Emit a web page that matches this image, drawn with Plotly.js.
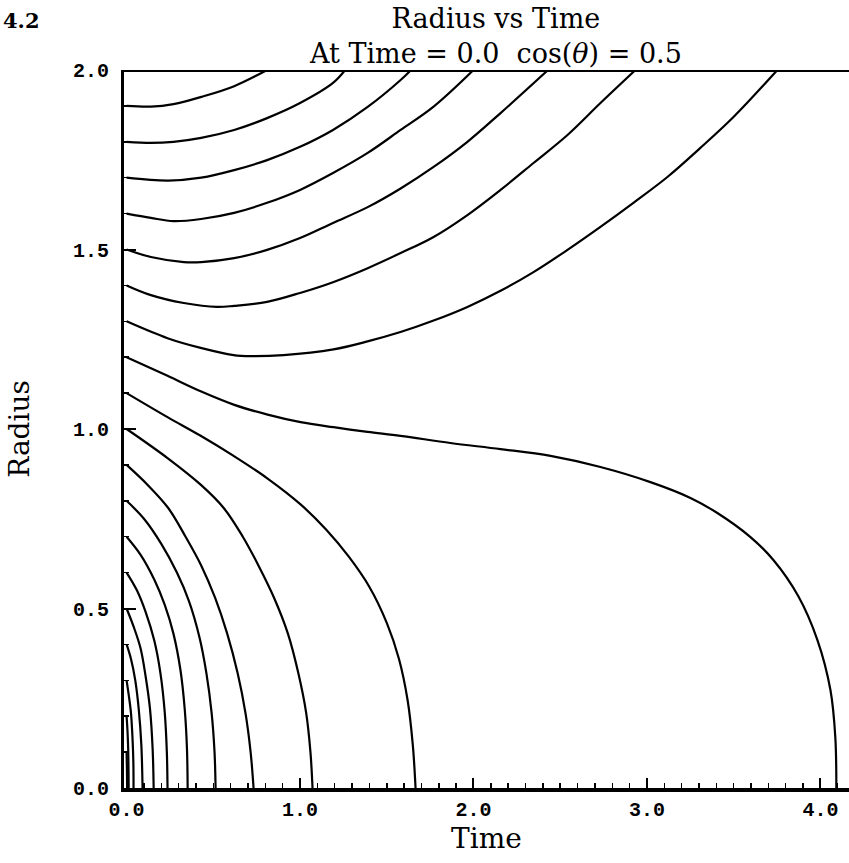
<!DOCTYPE html>
<html>
<head>
<meta charset="utf-8">
<script src="https://cdn.plot.ly/plotly-3.0.1.min.js"></script>
<style>html,body{margin:0;padding:0;background:#fff;}#chart{width:849px;height:863px;}</style>
</head>
<body>
<div id="chart"></div>
<script>
// ---- data (Time, Radius) ----
const t19 = [0, 0.14, 0.27, 0.43, 0.62, 0.81];
const r19 = [1.90, 1.898, 1.905, 1.925, 1.955, 2.0];
const t18 = [0, 0.14, 0.27, 0.43, 0.62, 0.81, 1.00, 1.19, 1.26];
const r18 = [1.80, 1.797, 1.800, 1.811, 1.833, 1.866, 1.908, 1.964, 2.0];
const t17 = [0, 0.24, 0.43, 0.62, 0.81, 1.00, 1.19, 1.39, 1.58, 1.64];
const r17 = [1.70, 1.692, 1.70, 1.721, 1.749, 1.786, 1.833, 1.897, 1.972, 2.0];
const t16 = [0, 0.14, 0.27, 0.43, 0.62, 0.81, 1.00, 1.19, 1.39, 1.58, 1.77, 2.00];
const r16 = [1.60, 1.588, 1.579, 1.585, 1.602, 1.630, 1.666, 1.713, 1.769, 1.833, 1.898, 2.0];
const t15 = [0, 0.14, 0.33, 0.43, 0.62, 0.81, 1.00, 1.19, 1.39, 1.58, 1.77, 1.965, 2.156, 2.43];
const r15 = [1.50, 1.479, 1.465, 1.465, 1.476, 1.499, 1.532, 1.574, 1.618, 1.670, 1.730, 1.80, 1.88, 2.0];
const t14 = [0, 0.14, 0.33, 0.52, 0.62, 0.81, 1.00, 1.19, 1.39, 1.58, 1.77, 1.965, 2.156, 2.346, 2.542, 2.732, 2.934];
const r14 = [1.40, 1.373, 1.351, 1.340, 1.343, 1.354, 1.379, 1.409, 1.448, 1.490, 1.535, 1.596, 1.666, 1.741, 1.819, 1.908, 2.0];
const t13 = [0, 0.236, 0.427, 0.617, 0.715, 0.905, 1.193, 1.389, 1.579, 1.77, 1.965, 2.156, 2.346, 2.542, 2.732, 2.922, 3.118, 3.308, 3.499, 3.752];
const r13 = [1.30, 1.253, 1.226, 1.206, 1.203, 1.206, 1.222, 1.244, 1.270, 1.302, 1.340, 1.385, 1.437, 1.499, 1.563, 1.630, 1.702, 1.783, 1.869, 2.0];
const t12 = [0, 0.236, 0.427, 0.617, 0.813, 1.003, 1.193, 1.389, 1.579, 1.867, 2.156, 2.444, 2.732, 3.020, 3.251, 3.406, 3.597, 3.729, 3.873, 3.983, 4.058, 4.086, 4.092];
const r12 = [1.20, 1.148, 1.105, 1.068, 1.040, 1.019, 1.005, 0.992, 0.981, 0.961, 0.944, 0.925, 0.894, 0.852, 0.808, 0.766, 0.699, 0.635, 0.534, 0.412, 0.273, 0.142, 0];
const t11 = [0, 0.236, 0.427, 0.617, 0.813, 1.003, 1.15, 1.28, 1.40, 1.50, 1.57, 1.62, 1.65, 1.666];
const r11 = [1.10, 1.033, 0.981, 0.925, 0.862, 0.79, 0.72, 0.645, 0.56, 0.46, 0.36, 0.245, 0.12, 0];
const t10 = [0, 0.236, 0.427, 0.56, 0.67, 0.76, 0.85, 0.93, 0.99, 1.035, 1.06, 1.072];
const r10 = [1.00, 0.919, 0.845, 0.78, 0.70, 0.62, 0.53, 0.43, 0.32, 0.21, 0.10, 0];
const t09 = [0, 0.12, 0.24, 0.34, 0.43, 0.51, 0.58, 0.64, 0.685, 0.715, 0.732];
const r09 = [0.90, 0.845, 0.78, 0.70, 0.62, 0.53, 0.43, 0.32, 0.21, 0.10, 0];
const t08 = [0, 0.1, 0.2, 0.29, 0.36, 0.42, 0.46, 0.49, 0.507, 0.513];
const r08 = [0.80, 0.75, 0.68, 0.60, 0.52, 0.42, 0.32, 0.21, 0.10, 0];
const t07 = [0, 0.08, 0.16, 0.22, 0.27, 0.31, 0.335, 0.348, 0.352];
const r07 = [0.70, 0.65, 0.58, 0.51, 0.43, 0.33, 0.22, 0.11, 0];
const t06 = [0, 0.06, 0.11, 0.16, 0.195, 0.22, 0.232, 0.236];
const r06 = [0.60, 0.55, 0.49, 0.41, 0.32, 0.21, 0.10, 0];
const t05 = [0, 0.04, 0.08, 0.11, 0.135, 0.15, 0.156];
const r05 = [0.50, 0.45, 0.39, 0.31, 0.22, 0.11, 0];
const t04 = [0, 0.025, 0.05, 0.07, 0.085, 0.092];
const r04 = [0.40, 0.36, 0.30, 0.22, 0.12, 0];
const t03 = [0, 0.012, 0.025, 0.034, 0.039, 0.040];
const r03 = [0.30, 0.26, 0.21, 0.14, 0.07, 0];
const t02 = [0, 0.005, 0.009, 0.011, 0.012];
const r02 = [0.20, 0.16, 0.11, 0.05, 0];
const t01 = [0, 0.002, 0.003];
const r01 = [0.10, 0.05, 0];

const xTickVals = [0, 1, 2, 3, 4];
const yTickVals = [0, 0.5, 1.0, 1.5, 2.0];
const titleLines = ['Radius vs Time', 'At Time = 0.0  cos(<i>θ</i>) = 0.5'];

const curves = [
  [t19, r19], [t18, r18], [t17, r17], [t16, r16], [t15, r15], [t14, r14], [t13, r13],
  [t12, r12], [t11, r11], [t10, r10], [t09, r09], [t08, r08], [t07, r07], [t06, r06],
  [t05, r05], [t04, r04], [t03, r03], [t02, r02], [t01, r01]
];

const traces = curves.map(c => ({
  x: c[0], y: c[1], type: 'scatter', mode: 'lines',
  line: {color: '#000', width: 2.2, shape: 'spline', smoothing: 1},
  hoverinfo: 'skip', showlegend: false
}));

const tickFont = {family: 'Liberation Mono, DejaVu Sans Mono, monospace', size: 20, color: '#000', weight: 'bold'};
const serif = 'DejaVu Serif, Liberation Serif, serif';

const layout = {
  width: 849, height: 863,
  margin: {l: 124, r: 0, t: 70, b: 75},
  paper_bgcolor: '#fff', plot_bgcolor: '#fff',
  showlegend: false,
  xaxis: {
    range: [-0.015, 4.165], showgrid: false, zeroline: false,
    showline: true, linecolor: '#000', linewidth: 4,
    ticks: 'inside', ticklen: 10, tickwidth: 2, tickcolor: '#000',
    tickvals: xTickVals, tickformat: '.1f', tickfont: tickFont,
    minor: {dtick: 0.1, tick0: 0, ticks: 'inside', ticklen: 5, tickwidth: 1.5, tickcolor: '#000', showgrid: false},
    title: {text: 'Time', font: {family: serif, size: 28, color: '#000'}, standoff: 2}
  },
  yaxis: {
    range: [0, 2.0], showgrid: false, zeroline: false,
    showline: true, linecolor: '#000', linewidth: 3,
    ticks: 'inside', ticklen: 12, tickwidth: 2, tickcolor: '#000',
    tickvals: yTickVals, tickformat: '.1f', tickfont: tickFont,
    ticklabelstandoff: 8,
    minor: {dtick: 0.1, tick0: 0, ticks: 'inside', ticklen: 5, tickwidth: 1.5, tickcolor: '#000', showgrid: false},
    title: {text: 'Radius', font: {family: serif, size: 28, color: '#000'}, standoff: 36}
  },
  shapes: [
    {type: 'line', xref: 'paper', x0: 0, x1: 1, yref: 'y', y0: 2.0, y1: 2.0, line: {color: '#000', width: 4}}
  ],
  annotations: [
    {text: titleLines.join('<br>'), xref: 'paper', yref: 'paper', x: 0.513, y: 1.048, xanchor: 'center', yanchor: 'middle',
     showarrow: false, font: {family: serif, size: 27, color: '#000'}},
    {text: '<b>4.2</b>', xref: 'paper', yref: 'paper', x: -0.169, y: 1.069, xanchor: 'left', yanchor: 'middle',
     showarrow: false, font: {family: serif, size: 21, color: '#000'}}
  ]
};

Plotly.newPlot('chart', traces, layout, {displayModeBar: false, staticPlot: true});
</script>
</body>
</html>
